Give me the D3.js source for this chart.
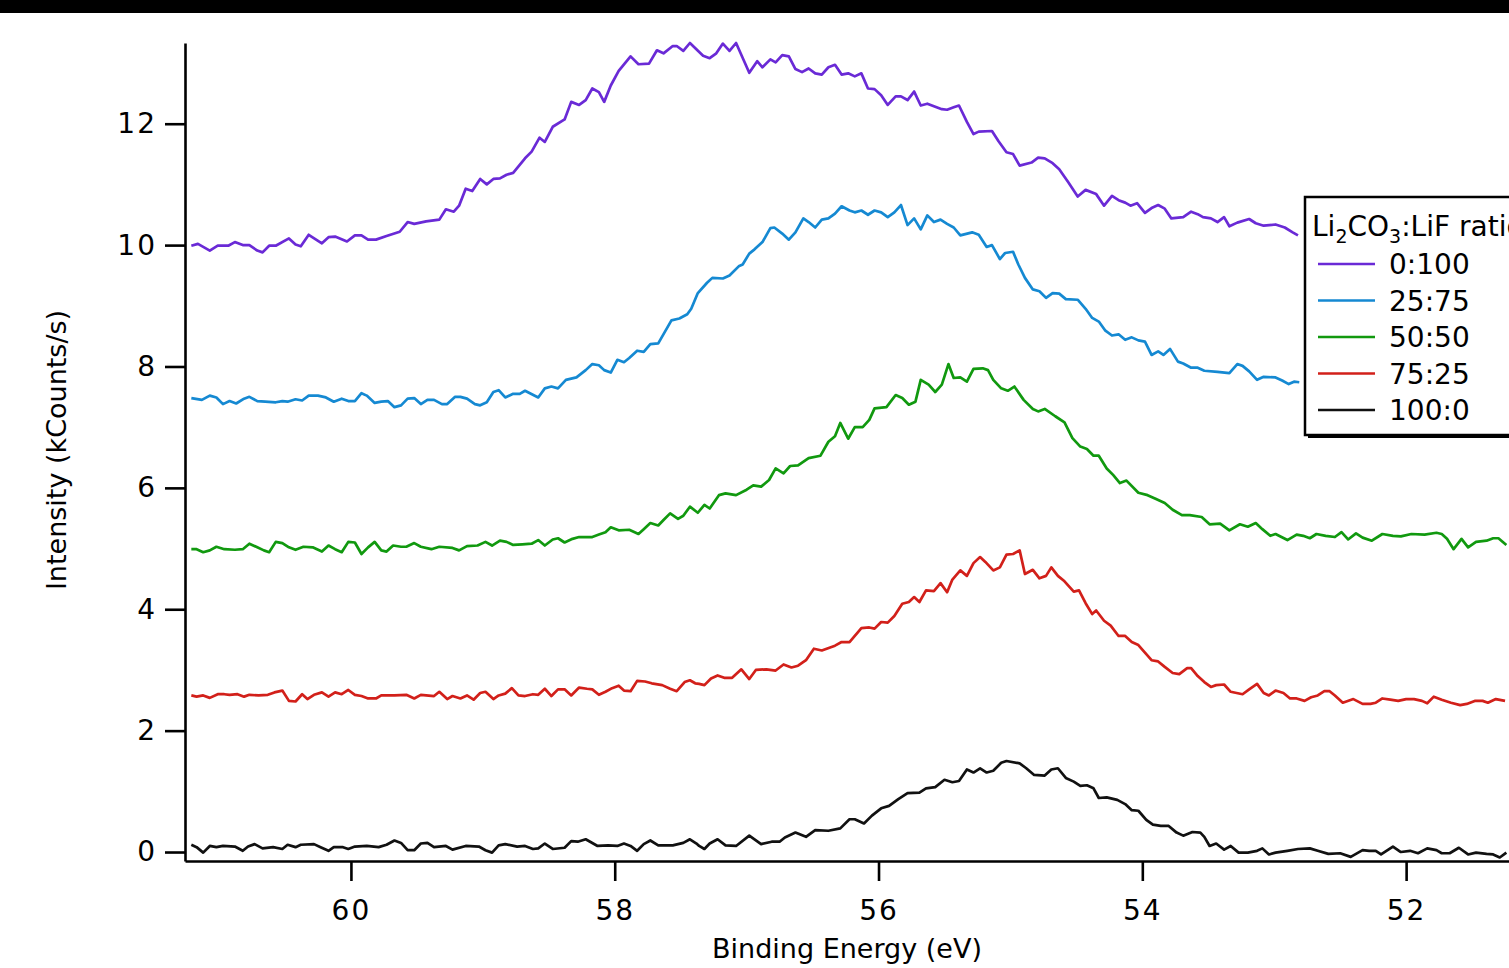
<!DOCTYPE html>
<html>
<head>
<meta charset="utf-8">
<script src="https://cdn.jsdelivr.net/npm/d3@7"></script>
<style>
  html, body { margin: 0; padding: 0; background: #fff; }
  svg { display: block; font-family: "DejaVu Sans", sans-serif; }
</style>
</head>
<body>
<svg id="chart" width="1509" height="968"></svg>
<script>
// ─── Data (binding energy in eV, intensity in kCounts/s) ──────────────────────

const RATIO_LABELS = ["0:100", "25:75", "50:50", "75:25", "100:0"];
const X_TICKS = [60, 58, 56, 54, 52];
const Y_TICKS = [0, 2, 4, 6, 8, 10, 12];

const r0_100 = [
  [61.21,9.99],[61.16,10.02],[61.07,9.91],[61.01,9.99],[60.93,9.99],[60.88,10.05],[60.82,10.00],[60.77,10.00],
  [60.71,9.91],[60.67,9.88],[60.62,9.99],[60.57,9.99],[60.47,10.11],[60.42,10.01],[60.38,9.98],[60.32,10.17],
  [60.22,10.03],[60.17,10.13],[60.12,10.14],[60.03,10.06],[59.97,10.16],[59.92,10.16],[59.87,10.09],[59.81,10.09],
  [59.73,10.15],[59.63,10.22],[59.57,10.38],[59.52,10.35],[59.43,10.39],[59.33,10.42],[59.28,10.59],[59.22,10.55],
  [59.18,10.65],[59.13,10.93],[59.08,10.89],[59.02,11.09],[58.97,11.00],[58.92,11.09],[58.87,11.10],[58.82,11.16],
  [58.77,11.19],[58.68,11.43],[58.63,11.54],[58.57,11.77],[58.53,11.70],[58.47,11.95],[58.38,12.07],[58.33,12.36],
  [58.27,12.31],[58.22,12.39],[58.17,12.58],[58.12,12.52],[58.08,12.36],[58.03,12.63],[57.97,12.87],[57.88,13.11],
  [57.82,12.98],[57.74,12.99],[57.68,13.21],[57.63,13.16],[57.56,13.28],[57.53,13.28],[57.48,13.20],[57.43,13.33],
  [57.33,13.12],[57.28,13.08],[57.23,13.16],[57.18,13.32],[57.13,13.20],[57.08,13.33],[56.98,12.84],[56.92,13.03],
  [56.88,12.93],[56.82,13.06],[56.78,13.01],[56.73,13.13],[56.68,13.11],[56.63,12.90],[56.58,12.85],[56.53,12.91],
  [56.48,12.83],[56.43,12.81],[56.38,12.93],[56.33,12.97],[56.28,12.81],[56.23,12.83],[56.18,12.78],[56.13,12.83],
  [56.08,12.58],[56.03,12.57],[55.98,12.47],[55.93,12.31],[55.87,12.45],[55.83,12.45],[55.78,12.39],[55.73,12.53],
  [55.68,12.30],[55.63,12.33],[55.57,12.28],[55.52,12.24],[55.48,12.23],[55.43,12.27],[55.39,12.30],[55.33,12.03],
  [55.28,11.83],[55.24,11.87],[55.14,11.88],[55.09,11.71],[55.03,11.53],[54.98,11.50],[54.93,11.31],[54.84,11.36],
  [54.79,11.44],[54.74,11.43],[54.68,11.35],[54.63,11.25],[54.56,11.03],[54.49,10.80],[54.43,10.91],[54.35,10.84],
  [54.29,10.65],[54.23,10.81],[54.18,10.74],[54.13,10.70],[54.09,10.65],[54.04,10.69],[53.98,10.53],[53.93,10.61],
  [53.88,10.66],[53.83,10.60],[53.78,10.44],[53.69,10.46],[53.63,10.55],[53.58,10.51],[53.54,10.46],[53.48,10.44],
  [53.43,10.38],[53.38,10.46],[53.34,10.31],[53.28,10.37],[53.19,10.43],[53.14,10.36],[53.08,10.32],[52.99,10.34],
  [52.92,10.29],[52.86,10.21],[52.82,10.16],
];

const r25_75 = [
  [61.21,7.48],[61.13,7.45],[61.07,7.52],[61.02,7.49],[60.97,7.38],[60.92,7.43],[60.87,7.39],[60.81,7.47],
  [60.77,7.50],[60.71,7.43],[60.65,7.42],[60.57,7.41],[60.52,7.43],[60.48,7.42],[60.42,7.46],[60.37,7.44],
  [60.32,7.52],[60.25,7.52],[60.19,7.49],[60.13,7.42],[60.07,7.47],[60.02,7.43],[59.97,7.43],[59.92,7.56],
  [59.88,7.52],[59.82,7.40],[59.77,7.42],[59.72,7.43],[59.67,7.33],[59.62,7.36],[59.57,7.47],[59.52,7.48],
  [59.47,7.38],[59.42,7.45],[59.37,7.45],[59.31,7.38],[59.27,7.38],[59.21,7.50],[59.17,7.50],[59.12,7.47],
  [59.06,7.38],[59.02,7.36],[58.97,7.41],[58.92,7.58],[58.88,7.61],[58.83,7.49],[58.77,7.55],[58.72,7.55],
  [58.68,7.60],[58.58,7.49],[58.53,7.64],[58.48,7.67],[58.43,7.64],[58.37,7.78],[58.29,7.82],[58.22,7.94],
  [58.17,8.04],[58.12,8.02],[58.08,7.94],[58.03,7.90],[57.98,8.11],[57.93,8.07],[57.89,8.14],[57.83,8.26],
  [57.78,8.24],[57.73,8.37],[57.67,8.38],[57.57,8.76],[57.51,8.79],[57.45,8.86],[57.42,8.95],[57.37,9.21],
  [57.30,9.38],[57.26,9.46],[57.18,9.45],[57.13,9.50],[57.06,9.65],[57.03,9.68],[56.98,9.86],[56.94,9.93],
  [56.88,10.05],[56.82,10.28],[56.79,10.29],[56.73,10.19],[56.68,10.09],[56.63,10.21],[56.57,10.44],[56.53,10.38],
  [56.48,10.29],[56.43,10.42],[56.38,10.44],[56.33,10.52],[56.28,10.64],[56.22,10.57],[56.18,10.54],[56.13,10.57],
  [56.08,10.50],[56.03,10.57],[55.98,10.54],[55.93,10.46],[55.88,10.54],[55.83,10.66],[55.78,10.33],[55.73,10.44],
  [55.68,10.26],[55.63,10.49],[55.58,10.38],[55.53,10.42],[55.48,10.35],[55.43,10.29],[55.38,10.16],[55.29,10.21],
  [55.24,10.17],[55.18,9.97],[55.14,10.00],[55.08,9.77],[55.04,9.87],[54.98,9.89],[54.94,9.68],[54.89,9.46],
  [54.83,9.27],[54.78,9.24],[54.73,9.13],[54.68,9.21],[54.63,9.20],[54.58,9.11],[54.49,9.10],[54.43,8.95],
  [54.38,8.80],[54.33,8.74],[54.28,8.59],[54.23,8.51],[54.18,8.53],[54.13,8.44],[54.08,8.48],[54.03,8.43],
  [53.98,8.41],[53.93,8.19],[53.88,8.25],[53.84,8.19],[53.79,8.29],[53.73,8.08],[53.69,8.05],[53.63,7.98],
  [53.58,7.98],[53.53,7.93],[53.43,7.91],[53.34,7.89],[53.28,8.04],[53.24,8.01],[53.19,7.92],[53.13,7.78],
  [53.08,7.83],[52.99,7.82],[52.94,7.77],[52.89,7.71],[52.85,7.75],[52.81,7.74],
];

const r50_50 = [
  [61.21,4.99],[61.17,4.99],[61.12,4.94],[61.07,4.97],[61.02,5.03],[60.96,4.99],[60.88,4.98],[60.82,4.99],
  [60.77,5.08],[60.71,5.02],[60.66,4.97],[60.62,4.94],[60.57,5.11],[60.52,5.09],[60.47,5.02],[60.42,4.98],
  [60.36,5.03],[60.29,5.02],[60.22,4.95],[60.17,5.05],[60.12,4.99],[60.07,4.94],[60.02,5.11],[59.97,5.10],
  [59.92,4.91],[59.87,5.02],[59.82,5.11],[59.77,4.97],[59.73,4.95],[59.68,5.05],[59.62,5.03],[59.58,5.03],
  [59.52,5.09],[59.47,5.03],[59.39,4.99],[59.33,5.03],[59.23,5.01],[59.18,4.97],[59.12,5.04],[59.04,5.05],
  [58.98,5.11],[58.93,5.05],[58.87,5.13],[58.82,5.11],[58.77,5.06],[58.70,5.07],[58.63,5.08],[58.58,5.14],
  [58.53,5.05],[58.47,5.15],[58.43,5.17],[58.38,5.10],[58.32,5.16],[58.27,5.19],[58.17,5.19],[58.12,5.23],
  [58.07,5.27],[58.03,5.35],[57.97,5.30],[57.89,5.31],[57.82,5.24],[57.78,5.32],[57.73,5.42],[57.67,5.38],
  [57.63,5.47],[57.58,5.58],[57.52,5.49],[57.48,5.54],[57.43,5.69],[57.37,5.59],[57.32,5.72],[57.28,5.66],
  [57.21,5.88],[57.16,5.91],[57.08,5.88],[57.00,5.97],[56.95,6.04],[56.89,6.02],[56.83,6.13],[56.78,6.32],
  [56.72,6.24],[56.67,6.36],[56.61,6.37],[56.53,6.49],[56.44,6.53],[56.38,6.76],[56.33,6.85],[56.29,7.07],
  [56.23,6.81],[56.18,7.00],[56.12,7.00],[56.07,7.12],[56.03,7.31],[55.94,7.33],[55.87,7.53],[55.82,7.48],
  [55.77,7.37],[55.72,7.42],[55.68,7.78],[55.62,7.70],[55.57,7.58],[55.52,7.70],[55.47,8.04],[55.43,7.81],
  [55.38,7.82],[55.33,7.75],[55.28,7.96],[55.21,7.97],[55.17,7.94],[55.13,7.78],[55.07,7.64],[55.02,7.60],
  [54.97,7.67],[54.90,7.45],[54.83,7.30],[54.79,7.26],[54.74,7.30],[54.66,7.18],[54.59,7.08],[54.53,6.82],
  [54.47,6.68],[54.42,6.64],[54.37,6.53],[54.33,6.53],[54.27,6.32],[54.22,6.21],[54.17,6.08],[54.12,6.12],
  [54.03,5.92],[53.96,5.88],[53.90,5.82],[53.83,5.75],[53.77,5.64],[53.70,5.55],[53.64,5.55],[53.55,5.52],
  [53.49,5.40],[53.41,5.41],[53.34,5.30],[53.26,5.40],[53.20,5.36],[53.14,5.42],[53.09,5.32],[53.03,5.21],
  [52.99,5.24],[52.90,5.14],[52.83,5.23],[52.78,5.21],[52.73,5.17],[52.68,5.24],[52.61,5.21],[52.54,5.19],
  [52.49,5.27],[52.44,5.15],[52.38,5.25],[52.33,5.18],[52.26,5.13],[52.18,5.24],[52.10,5.21],[52.04,5.20],
  [51.96,5.24],[51.86,5.23],[51.77,5.26],[51.73,5.24],[51.69,5.16],[51.64,4.99],[51.58,5.16],[51.53,5.02],
  [51.47,5.11],[51.39,5.13],[51.34,5.17],[51.30,5.17],[51.24,5.06],
];

const r75_25 = [
  [61.21,2.58],[61.17,2.56],[61.12,2.58],[61.07,2.54],[61.01,2.60],[60.96,2.60],[60.92,2.59],[60.86,2.60],
  [60.81,2.56],[60.77,2.59],[60.70,2.58],[60.63,2.59],[60.58,2.63],[60.52,2.66],[60.47,2.49],[60.42,2.48],
  [60.37,2.60],[60.33,2.52],[60.28,2.59],[60.22,2.63],[60.17,2.56],[60.12,2.63],[60.07,2.60],[60.02,2.67],
  [59.97,2.59],[59.92,2.57],[59.87,2.53],[59.81,2.53],[59.77,2.58],[59.67,2.58],[59.58,2.59],[59.52,2.53],
  [59.47,2.59],[59.37,2.57],[59.33,2.64],[59.27,2.52],[59.23,2.57],[59.17,2.53],[59.12,2.58],[59.07,2.51],
  [59.02,2.62],[58.98,2.64],[58.92,2.52],[58.88,2.58],[58.83,2.61],[58.78,2.70],[58.73,2.58],[58.68,2.57],
  [58.62,2.60],[58.58,2.59],[58.53,2.69],[58.48,2.57],[58.43,2.68],[58.38,2.68],[58.33,2.58],[58.27,2.71],
  [58.21,2.69],[58.17,2.68],[58.12,2.59],[58.07,2.64],[58.02,2.70],[57.97,2.74],[57.93,2.66],[57.88,2.65],
  [57.83,2.82],[57.77,2.81],[57.72,2.78],[57.64,2.75],[57.58,2.69],[57.53,2.65],[57.47,2.80],[57.43,2.83],
  [57.39,2.78],[57.36,2.77],[57.32,2.75],[57.27,2.86],[57.22,2.91],[57.17,2.87],[57.11,2.87],[57.04,3.01],
  [56.98,2.85],[56.93,3.00],[56.85,3.01],[56.78,2.99],[56.72,3.09],[56.66,3.04],[56.61,3.07],[56.55,3.16],
  [56.49,3.35],[56.43,3.32],[56.33,3.40],[56.28,3.46],[56.22,3.46],[56.13,3.69],[56.07,3.70],[56.03,3.68],
  [55.98,3.79],[55.93,3.78],[55.88,3.89],[55.82,4.09],[55.77,4.12],[55.73,4.20],[55.69,4.12],[55.64,4.31],
  [55.58,4.30],[55.53,4.43],[55.48,4.28],[55.44,4.49],[55.38,4.64],[55.33,4.55],[55.28,4.76],[55.23,4.86],
  [55.19,4.78],[55.13,4.64],[55.08,4.69],[55.03,4.90],[54.98,4.91],[54.93,4.97],[54.89,4.58],[54.83,4.65],
  [54.78,4.51],[54.73,4.55],[54.69,4.69],[54.64,4.55],[54.59,4.46],[54.52,4.29],[54.48,4.31],[54.43,4.10],
  [54.38,3.92],[54.35,3.98],[54.29,3.81],[54.24,3.73],[54.18,3.56],[54.13,3.56],[54.08,3.46],[54.03,3.41],
  [53.97,3.26],[53.93,3.16],[53.88,3.14],[53.83,3.05],[53.77,2.95],[53.72,2.93],[53.66,3.03],[53.63,3.03],
  [53.58,2.90],[53.53,2.80],[53.48,2.72],[53.44,2.75],[53.38,2.76],[53.33,2.64],[53.24,2.60],[53.19,2.68],
  [53.13,2.77],[53.08,2.62],[53.04,2.58],[52.99,2.66],[52.93,2.62],[52.88,2.53],[52.83,2.53],[52.77,2.49],
  [52.72,2.55],[52.67,2.58],[52.62,2.65],[52.58,2.65],[52.54,2.58],[52.48,2.46],[52.40,2.52],[52.33,2.44],
  [52.27,2.44],[52.23,2.46],[52.18,2.53],[52.12,2.51],[52.06,2.49],[52.00,2.52],[51.94,2.52],[51.88,2.49],
  [51.84,2.45],[51.79,2.56],[51.73,2.51],[51.66,2.46],[51.59,2.42],[51.54,2.44],[51.48,2.49],[51.42,2.49],
  [51.38,2.46],[51.32,2.52],[51.25,2.49],
];

const r100_0 = [
  [61.21,0.12],[61.17,0.08],[61.12,-0.01],[61.07,0.10],[61.02,0.08],[60.97,0.10],[60.88,0.09],[60.82,0.02],
  [60.78,0.09],[60.73,0.13],[60.67,0.06],[60.59,0.08],[60.52,0.05],[60.48,0.12],[60.42,0.08],[60.38,0.12],
  [60.28,0.13],[60.23,0.08],[60.17,0.02],[60.13,0.08],[60.06,0.08],[60.02,0.05],[59.97,0.09],[59.88,0.10],
  [59.79,0.08],[59.73,0.12],[59.67,0.19],[59.62,0.15],[59.57,0.03],[59.52,0.03],[59.47,0.14],[59.42,0.15],
  [59.37,0.08],[59.28,0.10],[59.23,0.04],[59.13,0.10],[59.03,0.09],[58.98,0.03],[58.93,-0.01],[58.88,0.11],
  [58.83,0.13],[58.74,0.09],[58.68,0.10],[58.62,0.05],[58.58,0.06],[58.53,0.14],[58.47,0.05],[58.38,0.07],
  [58.33,0.18],[58.28,0.17],[58.22,0.21],[58.13,0.10],[58.05,0.11],[57.98,0.10],[57.93,0.14],[57.88,0.10],
  [57.83,0.02],[57.78,0.13],[57.73,0.19],[57.67,0.11],[57.56,0.11],[57.48,0.15],[57.43,0.21],[57.38,0.14],
  [57.36,0.10],[57.32,0.05],[57.28,0.14],[57.22,0.21],[57.16,0.11],[57.08,0.10],[56.98,0.27],[56.89,0.13],
  [56.81,0.17],[56.75,0.17],[56.71,0.24],[56.63,0.32],[56.55,0.25],[56.48,0.36],[56.38,0.35],[56.29,0.39],
  [56.22,0.54],[56.18,0.54],[56.11,0.47],[56.05,0.60],[55.98,0.72],[55.92,0.76],[55.85,0.87],[55.78,0.97],
  [55.69,0.98],[55.64,1.05],[55.57,1.07],[55.50,1.19],[55.44,1.15],[55.39,1.17],[55.33,1.36],[55.28,1.31],
  [55.23,1.38],[55.18,1.31],[55.13,1.34],[55.07,1.47],[55.03,1.50],[54.93,1.46],[54.88,1.38],[54.82,1.27],
  [54.74,1.26],[54.69,1.36],[54.64,1.38],[54.58,1.22],[54.52,1.16],[54.47,1.09],[54.42,1.10],[54.37,1.05],
  [54.33,0.89],[54.27,0.90],[54.19,0.86],[54.13,0.79],[54.08,0.69],[54.03,0.68],[53.97,0.53],[53.92,0.45],
  [53.86,0.43],[53.80,0.43],[53.74,0.32],[53.69,0.27],[53.62,0.33],[53.56,0.32],[53.53,0.25],[53.49,0.10],
  [53.44,0.14],[53.38,0.04],[53.33,0.10],[53.27,-0.01],[53.20,-0.01],[53.13,0.02],[53.09,0.06],[53.04,-0.04],
  [52.99,-0.01],[52.90,0.02],[52.82,0.05],[52.73,0.06],[52.67,0.02],[52.59,-0.03],[52.50,-0.02],[52.42,-0.08],
  [52.33,0.03],[52.28,0.02],[52.23,0.02],[52.19,-0.04],[52.10,0.09],[52.04,0.00],[51.97,0.02],[51.91,-0.02],
  [51.84,0.06],[51.77,0.03],[51.73,-0.02],[51.67,-0.02],[51.60,0.07],[51.53,-0.04],[51.47,-0.01],[51.39,-0.03],
  [51.34,-0.04],[51.29,-0.09],[51.24,-0.01],
];

const SERIES = [r0_100, r25_75, r50_50, r75_25, r100_0];
const COLORS = ["#6a2ad6", "#1589d2", "#11990f", "#d2201a", "#111111"];

// ─── Scales + axes ────────────────────────────────────────────────────────────

const svg = d3.select("#chart");
const W = 1509, H = 968;

// energy axis runs high → low (XPS convention)
const x = d3.scaleLinear().domain([61.258, 51.22]).range([185, 1509]);
const y = d3.scaleLinear().domain([-0.148, 13.33]).range([861, 43]);

svg.append("rect").attr("x", 0).attr("y", 0).attr("width", W).attr("height", 13).attr("fill", "#000");

const line = d3.line().x(d => x(d[0])).y(d => y(d[1]));

svg.append("g")
  .selectAll("path")
  .data(SERIES)
  .join("path")
  .attr("d", line)
  .attr("fill", "none")
  .attr("stroke", (d, i) => COLORS[i])
  .attr("stroke-width", 2.7)
  .attr("stroke-linejoin", "round");

const yAxis = svg.append("g")
  .attr("transform", "translate(185,0)")
  .call(d3.axisLeft(y).tickValues(Y_TICKS).tickSize(20).tickSizeOuter(0).tickPadding(8));

const xAxis = svg.append("g")
  .attr("transform", "translate(0,861)")
  .call(d3.axisBottom(x).tickValues(X_TICKS).tickSize(20).tickSizeOuter(0).tickPadding(19));

[yAxis, xAxis].forEach(g => {
  g.select(".domain").attr("stroke", "#000").attr("stroke-width", 2.6);
  g.selectAll(".tick line").attr("stroke", "#000").attr("stroke-width", 2.6);
  g.selectAll(".tick text")
    .attr("fill", "#000")
    .style("font-family", "DejaVu Sans, sans-serif")
    .style("font-size", "28px")
    .style("letter-spacing", "2px");
});

// ─── Axis titles ──────────────────────────────────────────────────────────────

svg.append("text")
  .attr("x", 847).attr("y", 958)
  .attr("text-anchor", "middle")
  .style("font-size", "27px")
  .text("Binding Energy (eV)");

svg.append("text")
  .attr("transform", "translate(66,450) rotate(-90)")
  .attr("text-anchor", "middle")
  .style("font-size", "27px")
  .text("Intensity (kCounts/s)");

// ─── Legend (box runs past the right edge, as in the source figure) ──────────

const leg = svg.append("g");
leg.append("rect").attr("x", 1308).attr("y", 200).attr("width", 240).attr("height", 238).attr("fill", "#000");
leg.append("rect").attr("x", 1305).attr("y", 197).attr("width", 240).attr("height", 238)
  .attr("fill", "#fff").attr("stroke", "#000").attr("stroke-width", 2.5);

const title = leg.append("text").attr("x", 1312).attr("y", 236).style("font-size", "28px");
title.append("tspan").text("Li");
title.append("tspan").attr("dy", 7).style("font-size", "19px").text("2");
title.append("tspan").attr("dy", -7).text("CO");
title.append("tspan").attr("dy", 7).style("font-size", "19px").text("3");
title.append("tspan").attr("dy", -7).text(":LiF ratio");

const rowY = d3.scaleLinear().domain([0, 4]).range([264, 410]);

leg.selectAll("line.key")
  .data(RATIO_LABELS)
  .join("line")
  .attr("class", "key")
  .attr("x1", 1318).attr("x2", 1375)
  .attr("y1", (d, i) => rowY(i)).attr("y2", (d, i) => rowY(i))
  .attr("stroke", (d, i) => COLORS[i])
  .attr("stroke-width", 2.6);

leg.selectAll("text.key")
  .data(RATIO_LABELS)
  .join("text")
  .attr("class", "key")
  .attr("x", 1389)
  .attr("y", (d, i) => rowY(i) + 10)
  .style("font-size", "28px")
  .text(d => d);
</script>
</body>
</html>
